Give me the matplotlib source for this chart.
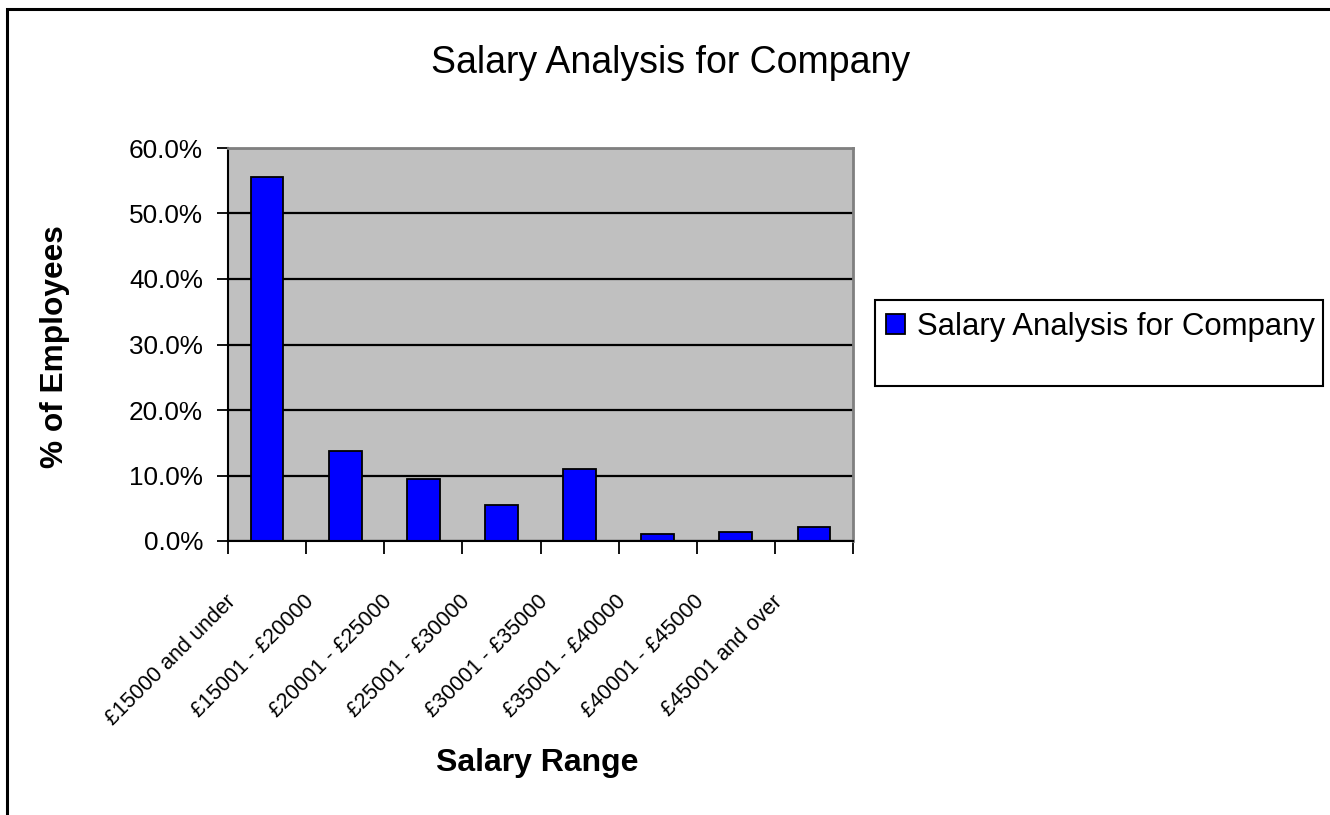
import matplotlib
matplotlib.use('Agg')
import matplotlib.pyplot as plt
import matplotlib.transforms as mtransforms
from matplotlib.patches import Rectangle
from matplotlib.ticker import FuncFormatter, FixedLocator
import numpy as np

plt.rcParams['font.family'] = ['Liberation Sans', 'DejaVu Sans']

################### DATOS ###################
categories = ['£15000 and under', '£15001 - £20000', '£20001 - £25000',
              '£25001 - £30000', '£30001 - £35000', '£35001 - £40000',
              '£40001 - £45000', '£45001 and over']
pct_employees = [55.6, 13.8, 9.5, 5.5, 11.0, 1.0, 1.3, 2.2]  # % of employees
series_name = 'Salary Analysis for Company'
y_ticks = [0, 10, 20, 30, 40, 50, 60]

################### FIGURA ###################
W, H, dpi = 1330, 815, 100
fig = plt.figure(figsize=(W / dpi, H / dpi), dpi=dpi)
fig.patch.set_facecolor('white')

# marco exterior (solo se ven borde superior e izquierdo)
fig.patches.append(Rectangle((7 / W, -0.2), 1.3, 1.2 - 9 / H, transform=fig.transFigure,
                             fill=False, edgecolor='black', linewidth=2.2))

ax = fig.add_axes([228 / W, 1 - 541 / H, (853 - 228) / W, (541 - 148) / H])
ax.set_facecolor('#C0C0C0')

x = np.arange(len(categories))
bars = ax.bar(x, pct_employees, width=0.42, color='#0000FF', edgecolor='black',
              linewidth=1.3, label=series_name, zorder=2)

ax.set_xlim(-0.5, len(categories) - 0.5)
ax.set_ylim(0, 60)
ax.set_axisbelow(True)

# ejes
ax.set_yticks(y_ticks)
ax.yaxis.set_major_formatter(FuncFormatter(lambda v, p: '%.1f%%' % v))
ax.tick_params(axis='y', direction='out', length=8, width=1.3, pad=10,
               labelsize=18.8, colors='black')
ax.yaxis.grid(True, color='black', linewidth=1.6)

ax.xaxis.set_major_locator(FixedLocator(np.arange(len(categories) + 1) - 0.5))
ax.xaxis.set_major_formatter(FuncFormatter(lambda v, p: ''))
ax.set_xticks(x, minor=True)
ax.set_xticklabels(categories, minor=True)
ax.tick_params(axis='x', which='major', direction='out', length=9, width=1.3)
ax.tick_params(axis='x', which='minor', length=0, pad=0, labelsize=15.5)

offset = mtransforms.ScaledTranslation(-42 / dpi, -50 / dpi, fig.dpi_scale_trans)
for lbl in ax.get_xticklabels(minor=True):
    lbl.set_rotation(45)
    lbl.set_ha('right')
    lbl.set_va('top')
    lbl.set_rotation_mode('anchor')
    lbl.set_transform(lbl.get_transform() + offset)

for s in ['left', 'bottom']:
    ax.spines[s].set_color('black')
    ax.spines[s].set_linewidth(1.5)
for s in ['top', 'right']:
    ax.spines[s].set_color('#808080')
    ax.spines[s].set_linewidth(2.0)

# textos
fig.text(671 / W, 1 - 63 / H, 'Salary Analysis for Company', ha='center', va='center',
         fontsize=27)
fig.text(55 / W, 1 - 347 / H, '% of Employees', rotation=90, ha='center', va='center',
         fontsize=22.8, fontweight='bold')
fig.text(537 / W, 1 - 763 / H, 'Salary Range', ha='center', va='center',
         fontsize=23, fontweight='bold')

# leyenda
fig.patches.append(Rectangle((875 / W, 1 - 386 / H), (1323 - 875) / W, (386 - 300) / H,
                             transform=fig.transFigure, fill=True, facecolor='white',
                             edgecolor='black', linewidth=1.5))
fig.legend(handles=[bars], labels=[series_name], loc='center left',
           bbox_to_anchor=(886 / W, 1 - 327 / H), frameon=False, fontsize=22.4,
           handlelength=0.6, handleheight=0.65, handletextpad=0.4,
           borderpad=0, borderaxespad=0)

fig.savefig('out.png', dpi=dpi)
